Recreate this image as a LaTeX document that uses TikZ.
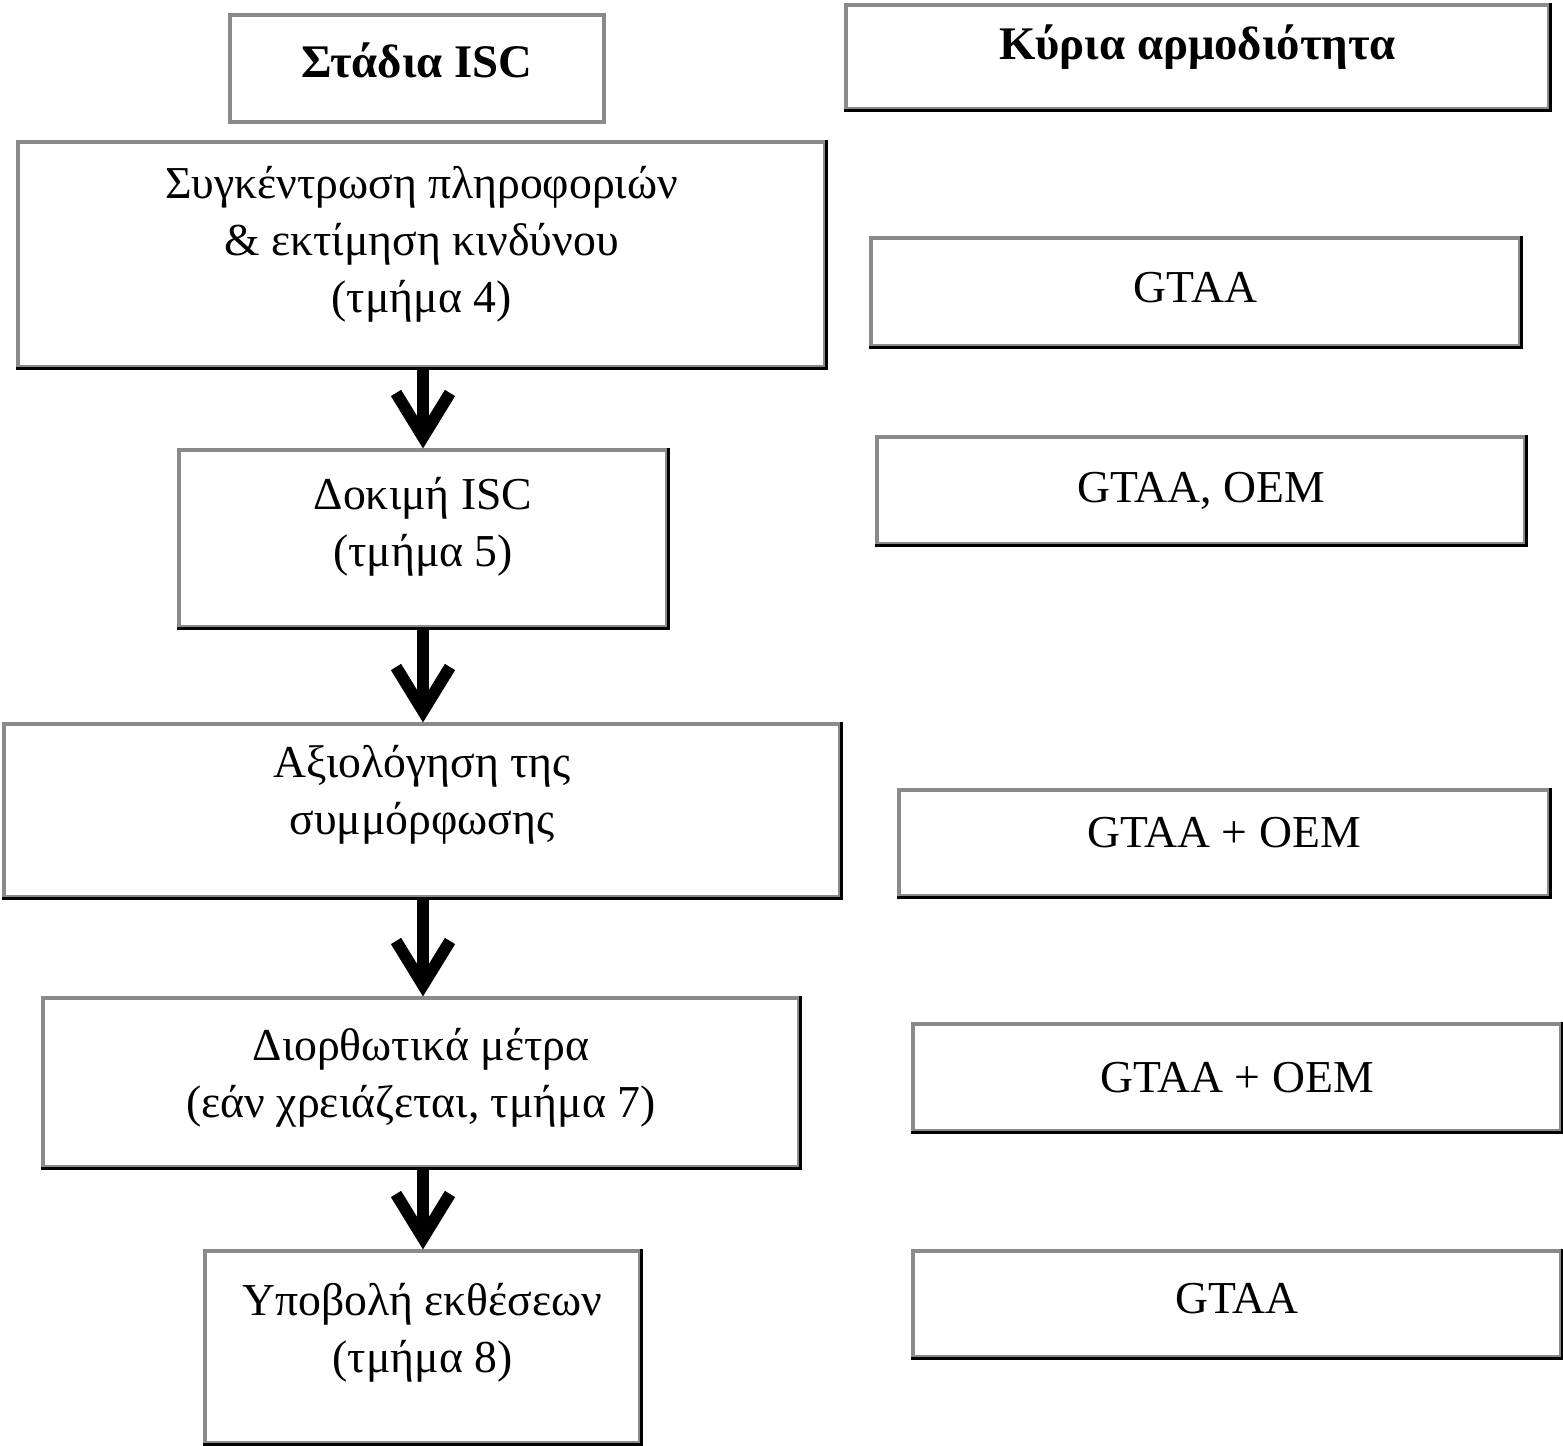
\documentclass[tikz,border=0pt]{standalone}
\usepackage{fontspec}
\setmainfont{Liberation Serif}
\usepackage{tikz}
\usetikzlibrary{arrows.meta,positioning}
\definecolor{edgegray}{HTML}{8A8A8A}

\begin{document}
\begin{tikzpicture}[
  font=\fontsize{13}{16.3}\selectfont,
  box/.style={draw=edgegray, line width=0.9pt, align=center, inner sep=0pt},
  head/.style={box, font=\fontsize{13.3}{16.3}\selectfont\bfseries},
  lift/.style={text depth=#1},
  shade/.style={draw=black, line width=0.9pt},
  arrow/.style={-{Straight Barb[length=4.4mm,width=5.4mm]}, line width=3.4pt, draw=black}
]
  \useasboundingbox (0,0) rectangle (15.63,-14.46);

  % headers
  \node[head, lift=4.9pt, minimum width=3.74cm, minimum height=1.07cm] (hdrstage) at (4.17,-0.685) {Στάδια ISC};
  \node[head, lift=8.5pt, minimum width=7.03cm, minimum height=1.04cm] (hdrrole) at (11.975,-0.57) {Κύρια αρμοδιότητα};

  % stages of the ISC
  \node[box, lift=8.5pt, minimum width=8.07cm, minimum height=2.25cm] (gather) at (4.215,-2.545)
    {Συγκέντρωση πληροφοριών\\\& εκτίμηση κινδύνου\\(τμήμα 4)};
  \node[box, lift=9.6pt, minimum width=4.88cm, minimum height=1.77cm] (test) at (4.23,-5.385)
    {Δοκιμή ISC\\(τμήμα 5)};
  \node[box, lift=11.9pt, minimum width=8.36cm, minimum height=1.73cm] (assess) at (4.22,-8.105)
    {Αξιολόγηση της\\συμμόρφωσης};
  \node[box, lift=5.6pt, minimum width=7.56cm, minimum height=1.69cm] (remedy) at (4.21,-10.825)
    {Διορθωτικά μέτρα\\(εάν χρειάζεται, τμήμα 7)};
  \node[box, lift=10.8pt, minimum width=4.35cm, minimum height=1.92cm] (report) at (4.225,-13.47)
    {Υποβολή εκθέσεων\\(τμήμα 8)};

  % main responsibility
  \node[box, lift=2.8pt, minimum width=6.49cm, minimum height=1.08cm] (rgather) at (11.955,-2.92) {GTAA};
  \node[box, minimum width=6.48cm, minimum height=1.07cm] (rtest) at (12.01,-4.905) {GTAA, OEM};
  \node[box, lift=6.3pt, minimum width=6.50cm, minimum height=1.06cm] (rassess) at (12.24,-8.43) {GTAA + OEM};
  \node[box, minimum width=6.48cm, minimum height=1.07cm] (rremedy) at (12.37,-10.775) {GTAA + OEM};
  \node[box, lift=3.4pt, minimum width=6.48cm, minimum height=1.06cm] (rreport) at (12.37,-13.04) {GTAA};

  % darker lower and right edges
  \foreach \n in {hdrrole,gather,test,assess,remedy,report,rgather,rtest,rassess,rremedy,rreport}
    \draw[shade] (\n.north east) -- (\n.south east) -- (\n.south west);

  \coordinate (axis) at (4.23,0);
  \draw[arrow] (gather.south -| axis) -- (test.north -| axis);
  \draw[arrow] (test.south -| axis) -- (assess.north -| axis);
  \draw[arrow] (assess.south -| axis) -- (remedy.north -| axis);
  \draw[arrow] (remedy.south -| axis) -- (report.north -| axis);
\end{tikzpicture}
\end{document}
